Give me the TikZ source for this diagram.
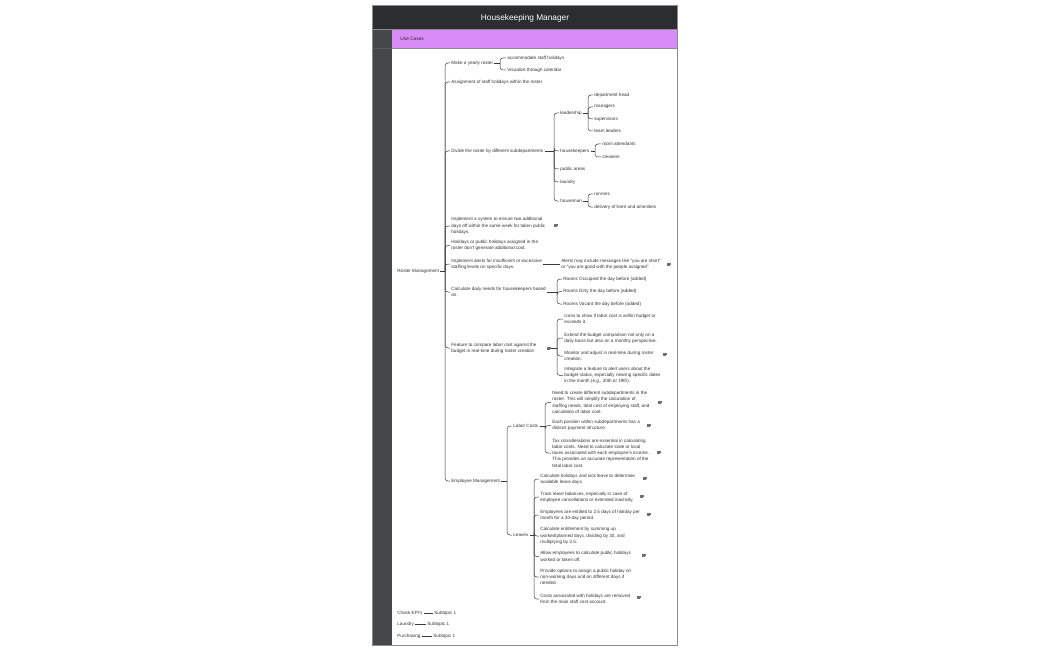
\documentclass[tikz,border=0pt]{standalone}
\usepackage{fontspec}
\setmainfont{Liberation Sans}
\definecolor{hdr}{HTML}{2C2D31}
\definecolor{strip}{HTML}{46474B}
\definecolor{purp}{HTML}{D98BF6}
\definecolor{framec}{HTML}{8C8C8C}
\definecolor{txtc}{HTML}{333333}
\definecolor{linec}{HTML}{3A3A3A}
\definecolor{notec}{HTML}{707070}
\newcommand\tinyf{\fontsize{4.6}{6.3}\selectfont}
\newcommand\tree[3]{%
  \draw[conn] (#1) -- (#1 -| #2);
  \foreach \c in {#3} {\draw[conn] (#1 -| #2) |- (\c.west);}
}
\newcommand\noteat[3]{%
  \node[noteic] (#1) at (#2,#3) {};
  \draw[notec, line width=0.45pt] ([shift={(-2,-1.2)}]#1.center) -- ++(4,0)
    ([shift={(-2,0)}]#1.center) -- ++(4,0)
    ([shift={(-2,1.2)}]#1.center) -- ++(2.5,0);
}
\tikzset{
  txt/.style={anchor=west, inner xsep=1.2pt, inner ysep=0pt, font=\tinyf, text=txtc, align=left},
  conn/.style={draw=linec, line width=0.5pt, rounded corners=3pt},
  noteic/.style={inner sep=0pt, minimum width=4pt, minimum height=3.6pt},
}
\begin{document}
\begin{tikzpicture}[x=1pt,y=-1pt]
\useasboundingbox (0,0) rectangle (1050,650);
\fill[white] (0,0) rectangle (1050,650);
% frame
\fill[white] (372,5) rectangle (677,645);
\fill[hdr] (372,5) rectangle (677,29);
\fill[strip] (372,29) rectangle (392,645);
\fill[purp] (392,29) rectangle (677,48);
\draw[framec, line width=0.6pt] (372,29) -- (677,29) (392,48) -- (677,48);
\draw[hdr!80!white, line width=0.5pt] (372,48) -- (392,48);
\draw[framec, line width=0.8pt] (372,5) rectangle (677,645);
\node[font=\fontsize{8.3}{10}\selectfont, text=white, inner sep=0pt] (title) at (525,18.5) {Housekeeping Manager};
\node[txt, font=\fontsize{4.8}{6}\selectfont, text=black!85] (uc) at (399,39) {Use Cases};

% bars
\coordinate (bR) at (445,0);
\coordinate (bM1) at (500,0);
\coordinate (bM3) at (554,0);
\coordinate (bD1) at (588,0);
\coordinate (bD2) at (595,0);
\coordinate (bD5) at (588,0);
\coordinate (bM7) at (557,0);
\coordinate (bM8) at (557,0);
\coordinate (bM9) at (507,0);
\coordinate (bE1) at (545,0);
\coordinate (bE2) at (534,0);

% root
\node[txt] (root) at (396,271) {Roster Management};
% level 1
\node[txt] (m1) at (450,63) {Make a yearly roster};
\node[txt] (m1a) at (506,58) {accommodate staff holidays};
\node[txt] (m1b) at (506,70) {Visualize through calendar};
\node[txt] (m2) at (450,82) {Assignment of staff holidays within the roster};
\node[txt] (m3) at (450,151) {Divide the roster by different subdepartments};
\node[txt] (d1) at (559,113) {leadership};
\node[txt] (d1a) at (593,95) {department head};
\node[txt] (d1b) at (593,107) {managers};
\node[txt] (d1c) at (593,119) {supervisors};
\node[txt] (d1d) at (593,131) {team leaders};
\node[txt] (d2) at (559,151) {housekeepers};
\node[txt] (d2a) at (601,144) {room attendants};
\node[txt] (d2b) at (601,157) {cleaners};
\node[txt] (d3) at (559,169) {public areas};
\node[txt] (d4) at (559,182) {laundry};
\node[txt] (d5) at (559,201) {houseman};
\node[txt] (d5a) at (593,194) {runners};
\node[txt] (d5b) at (593,207) {delivery of linen and amenities};
\node[txt] (m4) at (450,226) {Implement a system to ensure two additional\\days off within the same week for taken public\\holidays.};
\noteat{n4}{556}{225}
\node[txt] (m5) at (450,245.5) {Holidays or public holidays assigned in the\\roster don't generate additional cost.};
\node[txt] (m6) at (450,264) {Implement alerts for insufficient or excessive\\staffing levels on specific days.};
\node[txt] (a1) at (560,264) {Alerts may include messages like ``you are short''\\or ``you are good with the people assigned''};
\noteat{n6}{669}{264}
\node[txt] (m7) at (450,292) {Calculate daily needs for housekeepers based\\on:};
\node[txt] (c1) at (562,279) {Rooms Occupied the day before (added)};
\node[txt] (c2) at (562,291.5) {Rooms Dirty the day before (added)};
\node[txt] (c3) at (562,304) {Rooms Vacant the day before (added)};
\node[txt] (m8) at (450,348) {Feature to compare labor cost against the\\budget in real-time during roster creation};
\noteat{n8}{549}{348}
\node[txt] (f1) at (563,319) {Icons to show if labor cost is within budget or\\exceeds it.};
\node[txt] (f2) at (563,338) {Extend the budget comparison not only on a\\daily basis but also on a monthly perspective.};
\node[txt] (f3) at (563,356) {Monitor and adjust in real-time during roster\\creation.};
\noteat{nf3}{665}{354}
\node[txt] (f4) at (563,375.5) {Integrate a feature to alert users about the\\budget status, especially nearing specific dates\\in the month (e.g., 20th or 19th).};
\node[txt] (m9) at (450,481) {Employee Management};
\node[txt] (e1) at (512,426) {Labor Costs};
\node[txt] (l1) at (551,402.5) {Need to create different subdepartments in the\\roster. This will simplify the calculation of\\staffing needs, total cost of employing staff, and\\calculation of labor cost.};
\noteat{nl1}{660}{402}
\node[txt] (l2) at (551,425.5) {Each position within subdepartments has a\\distinct payment structure.};
\noteat{nl2}{649}{425}
\node[txt] (l3) at (551,453) {Tax considerations are essential in calculating\\labor costs. Need to calculate state or local\\taxes associated with each employee's income.\\This provides an accurate representation of the\\total labor cost.};
\noteat{nl3}{659}{452}
\node[txt] (e2) at (512,535) {Leaves};
\node[txt] (v1) at (539,479) {Calculate holidays and sick leave to determine\\available leave days.};
\noteat{nv1}{645}{478}
\node[txt] (v2) at (539,497) {Track leave balances, especially in case of\\employee cancellations or extended inactivity.};
\noteat{nv2}{642}{496}
\node[txt] (v3) at (539,515) {Employees are entitled to 2.5 days of holiday per\\month for a 30-day period.};
\noteat{nv3}{649}{514}
\node[txt] (v4) at (539,536) {Calculate entitlement by summing up\\worked/planned days, dividing by 30, and\\multiplying by 2.5.};
\node[txt] (v5) at (539,556.5) {Allow employees to calculate public holidays\\worked or taken off.};
\noteat{nv5}{644}{555}
\node[txt] (v6) at (539,577) {Provide options to assign a public holiday on\\non-working days and on different days if\\needed.};
\node[txt] (v7) at (539,599) {Costs associated with holidays are removed\\from the main staff cost account.};
\noteat{nv7}{639}{597}

% other roots
\node[txt] (k1) at (396,613) {Check KPI's};
\node[txt] (k1s) at (433,613) {Subtopic 1};
\node[txt] (k2) at (396,624.5) {Laundry};
\node[txt] (k2s) at (426,624.5) {Subtopic 1};
\node[txt] (k3) at (396,636) {Purchasing};
\node[txt] (k3s) at (432,636) {Subtopic 1};

% connectors
\tree{root.east}{bR}{m1,m2,m3,m4,m5,m6,m7,m8,m9}
\tree{m1.east}{bM1}{m1a,m1b}
\tree{m3.east}{bM3}{d1,d2,d3,d4,d5}
\tree{d1.east}{bD1}{d1a,d1b,d1c,d1d}
\tree{d2.east}{bD2}{d2a,d2b}
\tree{d5.east}{bD5}{d5a,d5b}
\draw[conn] (m6.east) -- (a1.west);
\tree{m7.east}{bM7}{c1,c2,c3}
\tree{n8.east}{bM8}{f1,f2,f3,f4}
\tree{m9.east}{bM9}{e1,e2}
\tree{e1.east}{bE1}{l1,l2,l3}
\tree{e2.east}{bE2}{v1,v2,v3,v4,v5,v6,v7}
\draw[conn] (k1.east) -- (k1s.west);
\draw[conn] (k2.east) -- (k2s.west);
\draw[conn] (k3.east) -- (k3s.west);
\end{tikzpicture}
\end{document}
